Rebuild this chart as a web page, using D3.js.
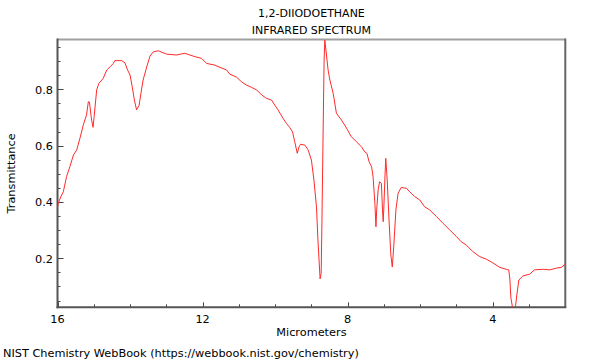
<!DOCTYPE html>
<html><head><meta charset="utf-8">
<script src="https://cdn.jsdelivr.net/npm/d3@7"></script>
<style>body{margin:0;background:#fff}svg{display:block;font-family:"DejaVu Sans",sans-serif}</style>
</head><body><svg id="c" width="600" height="360"></svg>
<script>
const titleLines = ["1,2-DIIODOETHANE", "INFRARED SPECTRUM"];
const xLabel = "Micrometers";
const yLabel = "Transmittance";
const footer = "NIST Chemistry WebBook (https://webbook.nist.gov/chemistry)";
const xTicks = [16, 12, 8, 4];
const yTicks = [0.2, 0.4, 0.6, 0.8];
const wavelength = [16.00,15.98,15.90,15.84,15.75,15.66,15.56,15.47,15.38,15.29,15.20,15.15,15.12,15.06,15.02,14.99,14.92,14.86,14.74,14.64,14.55,14.46,14.42,14.23,14.14,14.07,14.00,13.94,13.88,13.82,13.75,13.70,13.64,13.54,13.45,13.36,13.22,13.09,12.99,12.72,12.49,12.35,12.21,12.03,11.89,11.66,11.52,11.34,11.25,11.06,10.93,10.79,10.65,10.51,10.37,10.24,10.10,10.01,9.92,9.78,9.69,9.60,9.52,9.46,9.39,9.34,9.30,9.18,9.09,9.00,8.93,8.86,8.82,8.76,8.73,8.71,8.68,8.65,8.63,8.60,8.54,8.49,8.40,8.31,8.17,8.03,7.90,7.76,7.62,7.53,7.47,7.41,7.34,7.30,7.25,7.22,7.20,7.16,7.12,7.07,7.04,7.02,7.00,6.97,6.95,6.91,6.86,6.81,6.77,6.73,6.67,6.61,6.52,6.43,6.38,6.29,6.15,6.01,5.88,5.74,5.55,5.37,5.19,5.00,4.87,4.73,4.55,4.36,4.18,4.00,3.81,3.63,3.56,3.53,3.50,3.46,3.38,3.34,3.28,3.17,2.98,2.85,2.62,2.43,2.25,2.11,2.01];
const transmittance = [0.379,0.396,0.421,0.436,0.490,0.525,0.567,0.585,0.627,0.673,0.709,0.756,0.755,0.691,0.665,0.703,0.798,0.821,0.839,0.869,0.880,0.892,0.902,0.902,0.894,0.869,0.851,0.809,0.762,0.727,0.744,0.786,0.833,0.880,0.918,0.933,0.937,0.930,0.925,0.922,0.928,0.922,0.916,0.910,0.892,0.886,0.878,0.869,0.854,0.843,0.827,0.815,0.807,0.798,0.780,0.768,0.762,0.744,0.727,0.697,0.679,0.665,0.649,0.614,0.573,0.596,0.605,0.602,0.585,0.549,0.478,0.383,0.265,0.127,0.148,0.325,0.620,0.904,0.975,0.940,0.869,0.833,0.786,0.715,0.691,0.662,0.632,0.614,0.596,0.578,0.573,0.543,0.525,0.490,0.395,0.312,0.372,0.443,0.472,0.466,0.372,0.330,0.389,0.496,0.555,0.478,0.336,0.212,0.169,0.241,0.372,0.431,0.452,0.449,0.449,0.436,0.419,0.407,0.383,0.372,0.348,0.324,0.301,0.277,0.259,0.247,0.224,0.206,0.197,0.184,0.168,0.161,0.159,0.130,0.059,0.029,0.020,0.066,0.123,0.137,0.144,0.159,0.161,0.159,0.165,0.168,0.178];

const svg = d3.select("#c");
const L = 57.5, R = 565.3, T = 39.5, B = 307.3;
const x = d3.scaleLinear().domain([16, 2]).range([L, R]);
const y = d3.scaleLinear().domain([0.026, 0.977]).range([B, T]);

svg.append("clipPath").attr("id","clip").append("rect")
  .attr("x",L).attr("y",T).attr("width",R-L).attr("height",B-T);

const xMinor = d3.range(16, 2, -1);
const yMinor = d3.range(0.05, 0.97, 0.05);
const g = svg.append("g");
g.selectAll(".xm").data(xMinor).join("line")
  .attr("x1",d=>Math.round(x(d))+0.5).attr("x2",d=>Math.round(x(d))+0.5)
  .attr("y1",B).attr("y2",d=> xTicks.includes(d)? B-5 : B-3)
  .attr("stroke","#444").attr("stroke-width",1);
g.selectAll(".ym").data(yMinor).join("line")
  .attr("y1",d=>Math.round(y(d))+0.5).attr("y2",d=>Math.round(y(d))+0.5)
  .attr("x1",L).attr("x2",d=> yTicks.some(t=>Math.abs(t-d)<1e-6)? L+6 : L+3)
  .attr("stroke","#444").attr("stroke-width",1);

svg.append("line").attr("x1",L).attr("x2",R).attr("y1",T).attr("y2",T).attr("stroke","#a0a0a0").attr("stroke-width",2);
svg.append("line").attr("x1",R).attr("x2",R).attr("y1",T-1).attr("y2",B).attr("stroke","#666").attr("stroke-width",2);
svg.append("line").attr("x1",L).attr("x2",L).attr("y1",T-1).attr("y2",B+1).attr("stroke","#555").attr("stroke-width",2);
svg.append("line").attr("x1",L-1).attr("x2",R+1).attr("y1",B).attr("y2",B).attr("stroke","#555").attr("stroke-width",2);

svg.selectAll(".xl").data(xTicks).join("text")
  .attr("x",d=>x(d)).attr("y",323).attr("text-anchor","middle")
  .attr("font-size",11.3).attr("fill","#000").text(d=>d);
svg.selectAll(".yl").data(yTicks).join("text")
  .attr("x",53).attr("y",d=>y(d)+4.3).attr("text-anchor","end")
  .attr("font-size",11.3).attr("fill","#000").text(d=>d.toFixed(1));

const pts = wavelength.map((w,i)=>[w, transmittance[i]]);
svg.append("path").datum(pts).attr("clip-path","url(#clip)")
  .attr("d", d3.line().x(d=>x(d[0])).y(d=>y(d[1])))
  .attr("fill","none").attr("stroke","#ff2a2a").attr("stroke-width",1);

svg.selectAll(".tt").data(titleLines).join("text")
  .attr("x",(L+R)/2).attr("y",(d,i)=>17+i*17).attr("text-anchor","middle")
  .attr("font-size",11).attr("fill","#000").text(d=>d);
svg.append("text").attr("x",(L+R)/2).attr("y",336).attr("text-anchor","middle")
  .attr("font-size",11.3).attr("fill","#000").text(xLabel);
svg.append("text").attr("transform",`translate(15,${(T+B)/2}) rotate(-90)`)
  .attr("text-anchor","middle").attr("font-size",11.3).attr("fill","#000").text(yLabel);
svg.append("text").attr("x",3).attr("y",357).attr("font-size",11.3).attr("fill","#000").text(footer);
</script></body></html>
